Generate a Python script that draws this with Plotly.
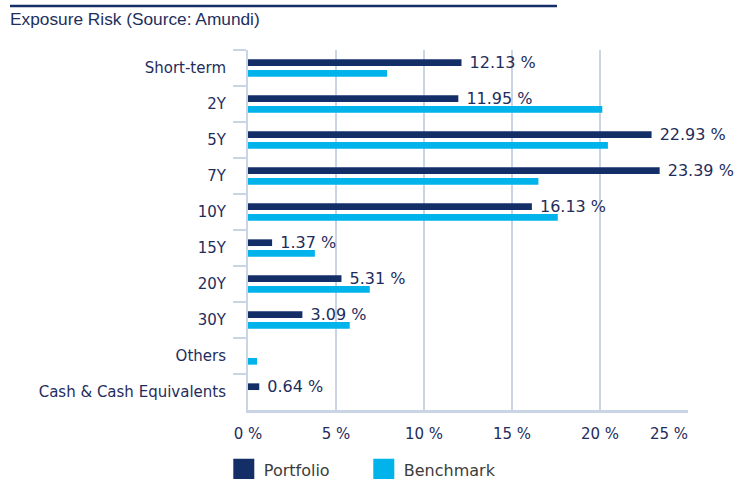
import plotly.graph_objects as go

categories = ["Short-term", "2Y", "5Y", "7Y", "10Y", "15Y", "20Y", "30Y", "Others", "Cash & Cash Equivalents"]
portfolio = [12.13, 11.95, 22.93, 23.39, 16.13, 1.37, 5.31, 3.09, None, 0.64]
benchmark = [7.9, 20.13, 20.45, 16.5, 17.6, 3.8, 6.92, 5.78, 0.51, None]
tick_vals = [0, 5, 10, 15, 20, 25]
tick_text = ["0 %", "5 %", "10 %", "15 %", "20 %", "25 %" + "\u00a0" * 8]

NAVY = "#142f68"
CYAN = "#00b3ea"
TEXT = "#1f2d5c"
GRID = "#c9d4e5"
FONT = "DejaVu Sans"

fig = go.Figure()
fig.add_trace(go.Bar(
    y=categories, x=portfolio, name="Portfolio", orientation="h",
    marker=dict(color=NAVY, line=dict(width=0)),
    texttemplate="\u00a0%{x:.2f} %", textposition="outside",
    textfont=dict(family=FONT, size=16, color=TEXT),
    cliponaxis=False, constraintext="none", showlegend=False,
))
fig.add_trace(go.Bar(
    y=categories, x=benchmark, name="Benchmark", orientation="h",
    marker=dict(color=CYAN, line=dict(width=0)),
    showlegend=False,
))
# legend entries (large square swatches)
for nm, col in [("Portfolio", NAVY), ("Benchmark", CYAN)]:
    fig.add_trace(go.Scatter(
        x=[None], y=[None], mode="markers", name=nm,
        marker=dict(symbol="square", size=16, color=col, line=dict(color=col, width=5)),
    ))

fig.update_layout(
    width=747, height=479,
    margin=dict(l=248, r=59, t=50, b=69, autoexpand=False),
    paper_bgcolor="white", plot_bgcolor="white",
    barmode="group", bargap=0.41, bargroupgap=0.37,
    font=dict(family=FONT, color=TEXT),
    title=dict(text="Exposure Risk (Source: Amundi)", x=10 / 747, xanchor="left",
               y=1 - 19 / 479, yanchor="middle", xref="container", yref="container",
               font=dict(family="Liberation Sans, Arial", size=17.3, color="#1e2f5e")),
    legend=dict(orientation="h", x=-0.055, xanchor="left", y=-0.165, yanchor="middle",
                font=dict(family=FONT, size=16, color="#3c3c3c"),
                entrywidth=95, itemsizing="trace", bgcolor="rgba(0,0,0,0)"),
    shapes=[dict(type="line", xref="paper", yref="paper",
                 x0=(10 - 248) / 440, x1=(557 - 248) / 440,
                 y0=(410 - 6) / 360, y1=(410 - 6) / 360,
                 line=dict(color=NAVY, width=2.5))],
)
fig.update_xaxes(
    range=[0, 25], tickvals=tick_vals, ticktext=tick_text,
    showgrid=True, gridcolor=GRID, gridwidth=1.5, zeroline=False,
    showline=True, linecolor=GRID, linewidth=2.5,
    ticks="", ticklabelstandoff=8,
    tickfont=dict(family=FONT, size=15, color=TEXT),
)
fig.update_yaxes(
    categoryorder="array", categoryarray=categories, autorange="reversed",
    showgrid=False, showline=True, linecolor=GRID, linewidth=2,
    ticks="outside", tickson="boundaries", ticklen=13, tickcolor=GRID, tickwidth=1.5,
    ticklabelstandoff=17,
    tickfont=dict(family=FONT, size=15, color=TEXT),
)

fig.write_html("out.html")
